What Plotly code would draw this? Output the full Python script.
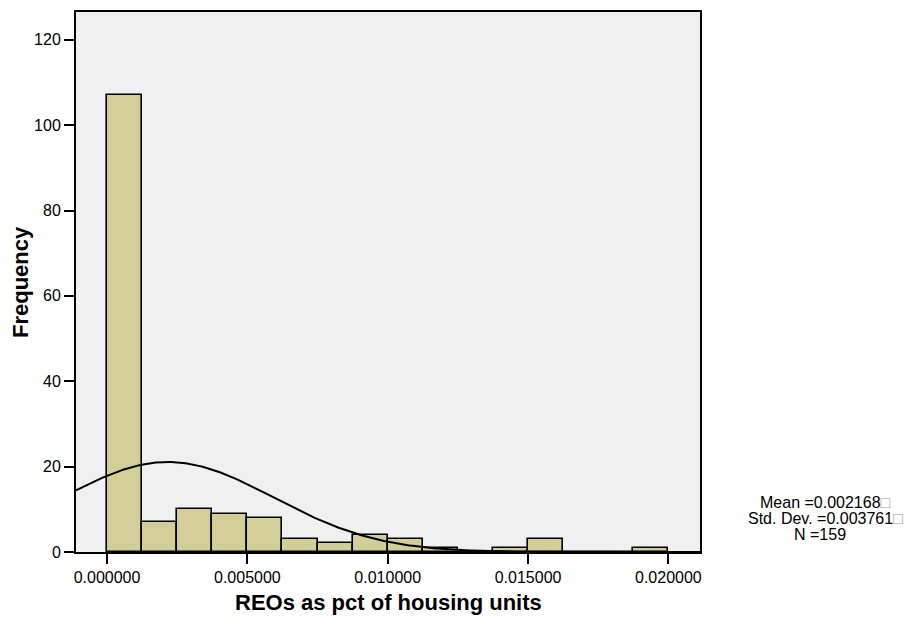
import numpy as np
import plotly.graph_objects as go

# Histogram of REOs as a share of housing units (16 bins of width 0.00125)
bin_left = [0.0, 0.00125, 0.0025, 0.00375, 0.005, 0.00625, 0.0075, 0.00875,
            0.01, 0.01125, 0.0125, 0.01375, 0.015, 0.01625, 0.0175, 0.01875]
bin_width = 0.00125
counts = [107, 7, 10, 9, 8, 3, 2, 4, 3, 1, 0, 1, 3, 0, 0, 1]

# Summary statistics shown beside the plot
mean_val = 0.002168
std_val = 0.003761
n_val = 159

x_ticks = [0.0, 0.005, 0.01, 0.015, 0.02]
y_ticks = [0, 20, 40, 60, 80, 100, 120]

x_range = [-0.0011044, 0.021126]
y_range = [0, 126.5]

W, H = 907, 619
L, R, T, B = 76, 207, 10, 67
plot_w = W - L - R
plot_h = H - T - B

FONT = "Liberation Sans, Arial, sans-serif"
BAR_FILL = "#D3CE97"
PLOT_BG = "#F0F0F0"

centers = [b + bin_width / 2 for b in bin_left]

# Normal curve scaled to the histogram (N * bin width * density)
xc = np.linspace(x_range[0], x_range[1], 400)
yc = n_val * bin_width / (std_val * np.sqrt(2 * np.pi)) * np.exp(-0.5 * ((xc - mean_val) / std_val) ** 2)

fig = go.Figure()
fig.add_trace(go.Bar(
    x=centers, y=counts, width=bin_width,
    marker=dict(color=BAR_FILL, line=dict(color="black", width=1.6)),
    hoverinfo="x+y", showlegend=False,
))
fig.add_trace(go.Scatter(
    x=xc, y=yc, mode="lines",
    line=dict(color="black", width=2),
    hoverinfo="skip", showlegend=False,
))


def px_to_paper(px, py):
    return (px - L) / plot_w, (H - B - py) / plot_h


annotations = []

# Axis titles
ax, ay = px_to_paper(388, 603)
annotations.append(dict(x=ax, y=ay, xref="paper", yref="paper", showarrow=False,
                        text="<b>REOs as pct of housing units</b>",
                        font=dict(family=FONT, size=22, color="black"),
                        xanchor="center", yanchor="middle"))
ax, ay = px_to_paper(20, 281)
annotations.append(dict(x=ax, y=ay, xref="paper", yref="paper", showarrow=False,
                        text="<b>Frequency</b>", textangle=-90,
                        font=dict(family=FONT, size=22, color="black"),
                        xanchor="center", yanchor="middle"))

# Statistics block
box = "<span style='color:#9a9a9a'>\u25a1</span>"
stat_lines = [
    (f"Mean ={mean_val:.6f}{box}", 825, 502),
    (f"Std. Dev. ={std_val:.6f}{box}", 825, 518),
    (f"N ={n_val}", 820, 534.5),
]
for txt, px, py in stat_lines:
    ax, ay = px_to_paper(px, py)
    annotations.append(dict(x=ax, y=ay, xref="paper", yref="paper", showarrow=False,
                            text=txt, font=dict(family=FONT, size=16, color="black"),
                            xanchor="center", yanchor="middle"))

fig.update_layout(
    width=W, height=H,
    margin=dict(l=L, r=R, t=T, b=B),
    paper_bgcolor="white",
    plot_bgcolor=PLOT_BG,
    bargap=0,
    annotations=annotations,
    font=dict(family=FONT, size=16, color="black"),
    xaxis=dict(
        range=x_range, tickvals=x_ticks, tickformat=".6f",
        ticks="outside", ticklen=10, tickwidth=2, tickcolor="black",
        showline=True, linecolor="black", linewidth=2, mirror=True,
        showgrid=False, zeroline=False,
        tickfont=dict(family=FONT, size=16, color="black"),
    ),
    yaxis=dict(
        range=y_range, tickvals=y_ticks,
        ticks="outside", ticklen=10, tickwidth=2, tickcolor="black",
        showline=True, linecolor="black", linewidth=2, mirror=True,
        showgrid=False, zeroline=False,
        tickfont=dict(family=FONT, size=16, color="black"),
    ),
)

fig.write_html("out.html")
